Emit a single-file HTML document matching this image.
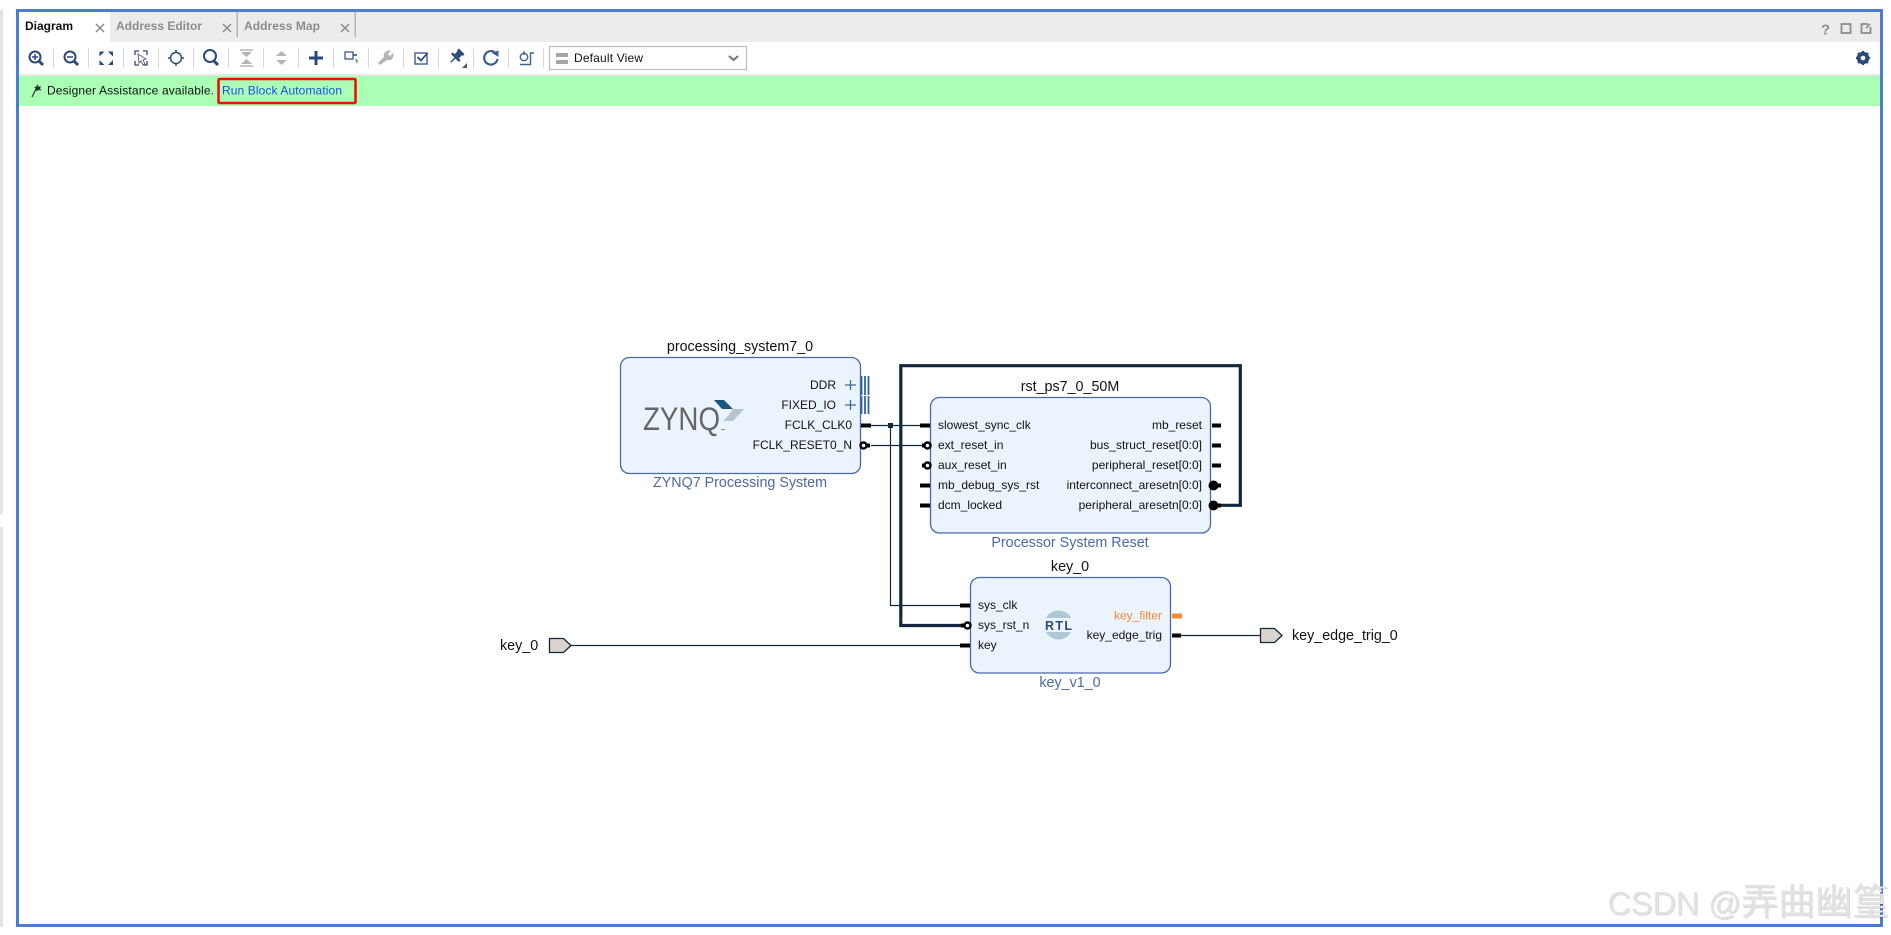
<!DOCTYPE html>
<html><head><meta charset="utf-8"><style>
html,body{margin:0;padding:0;background:#fff;width:1891px;height:935px;overflow:hidden}
svg{display:block;font-family:"Liberation Sans","Noto Sans CJK SC",sans-serif}
.p{font-size:12px;fill:#111}
.t{font-size:14.3px;fill:#111}
.s{font-size:14.3px;fill:#4a69a5}
.b{fill:#ebf4fd;stroke:#4a69a8;stroke-width:1.3}
.w{fill:none;stroke:#12263c;stroke-width:1.2}
.W{fill:none;stroke:#12263c;stroke-width:3.2}
.st{stroke:#000;stroke-width:4}
.ic{fill:none;stroke:#2b4a7c;stroke-width:2}
.sep{stroke:#d8d8d8;stroke-width:1}
.tab{font-size:12px;font-weight:bold;fill:#8c8c8c}
.x{stroke:#8a8a8a;stroke-width:1.4}
</style></head><body>
<svg width="1891" height="935" viewBox="0 0 1891 935" xmlns="http://www.w3.org/2000/svg">
<rect x="0" y="10" width="3" height="504" fill="#e4e4e4"/>
<rect x="0" y="527" width="3" height="400" fill="#e4e4e4"/>
<!-- header -->
<rect x="19" y="12" width="1861" height="30" fill="#ececec"/>
<rect x="19" y="12" width="91" height="30" fill="#fff"/>
<rect x="236.500" y="12" width="1.500" height="25" fill="#b4b4b4"/>
<rect x="354.500" y="12" width="1.500" height="25" fill="#b4b4b4"/>
<text x="25" y="30" font-size="12" font-weight="bold" fill="#111">Diagram</text>
<text x="116" y="30" class="tab" textLength="86">Address Editor</text>
<text x="244" y="30" class="tab" textLength="76">Address Map</text>
<path class="x" d="M96 24l8 8M104 24l-8 8M223 24l8 8M231 24l-8 8M341 24l8 8M349 24l-8 8"/>
<!-- toolbar -->
<rect x="19" y="42" width="1861" height="32" fill="#fff"/>
<rect x="19" y="74" width="1861" height="2" fill="#e8e8e8"/>
<path class="sep" d="M53.500 48v20M88.500 48v20M123.500 48v20M158.500 48v20M193.500 48v20M228.500 48v20M263.500 48v20M298.500 48v20M333.500 48v20M368.500 48v20M403.500 48v20M438.500 48v20M473.500 48v20M508.500 48v20M543.500 48v20"/>
<g class="ic">
<circle cx="35" cy="57" r="5.500"/><path d="M39 61l4 4" stroke-width="3"/><path d="M32 57h6M35 54v6" stroke-width="1.500"/>
<circle cx="70" cy="57" r="5.500"/><path d="M74 61l4 4" stroke-width="3"/><path d="M67 57h6" stroke-width="1.500"/>
<path d="M99.500 51.500h5l-5 5zM113 51.500h-5l5 5zM99.500 65h5l-5-5zM113 65h-5l5-5z" fill="#2b4a7c" stroke="none"/>
<path d="M135 55v-4h4M143 51h4v4M135 61v4h4M147 61v4h-4" stroke-width="1.300"/><path d="M138 54l8 5-3 1 2 4-2 1-2-4-2 2z" stroke="#667" stroke-width="1" fill="#fff"/>
<circle cx="176" cy="58" r="5.500" stroke-width="1.500"/><path d="M176 50v3M176 63v3M168 58h3M181 58h3" stroke-width="1.500"/>
<circle cx="210" cy="56" r="6"/><path d="M214 61l4 4" stroke-width="3"/>
<path d="M309 58h14M316 51v14" stroke-width="3"/>
</g>
<path d="M240 50h13M240 66h13" stroke="#b5b5b5" stroke-width="1.500"/>
<path d="M241 52h11l-5.500 5zM241 64h11l-5.500-5z" fill="#b5b5b5"/>
<path d="M276 56h11l-5.500-5zM276 60h11l-5.500 5z" fill="#b5b5b5"/>
<rect x="345" y="52" width="8" height="7" fill="#fff" stroke="#2b4a7c" stroke-width="1.200"/>
<path d="M353 55h4" stroke="#2b4a7c" stroke-width="1.500"/>
<path d="M355 59l3 1-1 4z" fill="#2fae4a"/>
<path d="M380 65l-2-2 6-6a5 5 0 0 1 7-6l-3 3 2 2 3-3a5 5 0 0 1-6 7z" fill="#b5b5b5"/>
<rect x="415" y="53" width="12" height="11" fill="none" stroke="#3a5d8f" stroke-width="1.400"/>
<path d="M417.500 57l3.500 3.500 6.500-7.500" fill="none" stroke="#2b4a7c" stroke-width="1.700"/>
<g transform="rotate(45 456 57)" fill="#2b4a7c">
<rect x="452" y="49" width="8" height="2.500"/>
<rect x="453" y="51" width="6" height="5"/>
<rect x="450.500" y="56" width="11" height="2.500"/>
<rect x="455.300" y="58" width="1.400" height="6.500"/>
</g>
<path d="M467 68h-5l5-5z" fill="#555"/>
<path d="M495.500 53a6.700 6.700 0 1 0 2 6" fill="none" stroke="#3a5d8f" stroke-width="2.200"/>
<path d="M492 53l6.500-2.500v6.500z" fill="#3a5d8f"/>
<circle cx="524" cy="57" r="3.700" fill="none" stroke="#3a6590" stroke-width="1.400"/>
<path d="M520 64.500h10.500V53h3.500M524 51v4" fill="none" stroke="#3a6590" stroke-width="1.400"/>
<rect x="549.500" y="46.500" width="197" height="23" fill="#fff" stroke="#bdbdbd" stroke-width="1.200"/>
<path d="M556 53h12v4h-12zM556 60h12v4h-12z" fill="#a6a6a6"/>
<text x="574" y="62" font-size="12" fill="#111" textLength="69">Default View</text>
<path d="M729 56l4.500 4 4.500-4" fill="none" stroke="#777" stroke-width="2"/>
<!-- right icons -->
<text x="1821" y="34.500" font-size="15" font-weight="bold" fill="#8c8c8c">?</text>
<rect x="1841.500" y="24" width="9" height="9" fill="none" stroke="#8c8c8c" stroke-width="1.800"/>
<path d="M1868 24h-6.500v9h9v-6M1866 28l4-4" fill="none" stroke="#8c8c8c" stroke-width="1.800"/>
<circle cx="1863" cy="58" r="4.500" fill="none" stroke="#2b4a7c" stroke-width="3.500"/>
<path d="M1863 51v14M1856 58h14M1858 53l10 10M1868 53l-10 10" stroke="#2b4a7c" stroke-width="2.200"/>
<circle cx="1863" cy="58" r="2.300" fill="#fff"/>
<!-- banner -->
<rect x="19" y="76" width="1861" height="30" fill="#aaffb4"/>
<path d="M32 97l4.500-9" stroke="#233" stroke-width="1.200"/>
<path d="M37 84l1.500 2.500 2.500-.5-1 2.500 1.500 2-3-.5-2 1.500-.5-2.500-2-1.500 2.500-1z" fill="#233"/>
<text x="47" y="94.500" font-size="12" fill="#111" textLength="167">Designer Assistance available.</text>
<text x="222" y="94.500" font-size="12" fill="#1650f0" textLength="120">Run Block Automation</text>
<rect x="218.500" y="79" width="137" height="24" rx="1" fill="none" stroke="#f0100a" stroke-width="2.600"/>
<!-- wires -->
<path class="W" d="M1216 505.300H1240.300V365.700H900.800V625.500H965"/>
<path class="w" d="M871 425.500H921M871 445.500H923M890.500 425.500V605.500H961M571 645.500H961M1181 635.500H1260"/>
<rect x="888" y="423" width="5" height="5" fill="#12263c"/>
<!-- PS -->
<rect class="b" x="620.500" y="357.500" width="240" height="116" rx="9"/>
<text class="t" x="740" y="351" text-anchor="middle">processing_system7_0</text>
<text class="s" x="740" y="487" text-anchor="middle">ZYNQ7 Processing System</text>
<text x="643" y="430" font-size="32" fill="#666" textLength="77" lengthAdjust="spacingAndGlyphs">ZYNQ</text>
<path d="M721 429h4v1h-4z" fill="#888"/>
<path d="M714 400h10l9 9h-11z" fill="#155a7c"/>
<path d="M733 409h11l-11 12h-10l5-5z" fill="#b6c5cf"/>
<text class="p" x="836" y="389" text-anchor="end">DDR</text>
<text class="p" x="836" y="409" text-anchor="end">FIXED_IO</text>
<text class="p" x="852" y="429" text-anchor="end">FCLK_CLK0</text>
<text class="p" x="852" y="449" text-anchor="end">FCLK_RESET0_N</text>
<path d="M845 385h11M850.500 380v10M845 405h11M850.500 400v10" stroke="#3d6a9e" stroke-width="1.300"/>
<path d="M861.500 376v19M865 376v19M868.500 376v19M861.500 396v18M865 396v18M868.500 396v18" stroke="#2f659e" stroke-width="1.800"/>
<path class="st" d="M861 425.500h10M866 445.500h4"/>
<circle cx="863.500" cy="445.500" r="3" fill="#fff" stroke="#000" stroke-width="2.400"/>
<!-- rst -->
<rect class="b" x="930.500" y="397.500" width="280" height="135.500" rx="9"/>
<text class="t" x="1070" y="391" text-anchor="middle">rst_ps7_0_50M</text>
<text class="s" x="1070" y="547" text-anchor="middle">Processor System Reset</text>
<g class="p">
<text x="938" y="429">slowest_sync_clk</text>
<text x="938" y="449">ext_reset_in</text>
<text x="938" y="469">aux_reset_in</text>
<text x="938" y="489">mb_debug_sys_rst</text>
<text x="938" y="509">dcm_locked</text>
</g>
<g class="p" text-anchor="end">
<text x="1202" y="429">mb_reset</text>
<text x="1202" y="449">bus_struct_reset[0:0]</text>
<text x="1202" y="469">peripheral_reset[0:0]</text>
<text x="1202" y="489">interconnect_aresetn[0:0]</text>
<text x="1202" y="509">peripheral_aresetn[0:0]</text>
</g>
<path class="st" d="M920 425.500h10M922 445.500h4M922 465.500h4M920 485.500h10M920 505.500h10M1212 425.500h9M1212 445.500h9M1212 465.500h9M1214 485.500h7M1214 505.500h7"/>
<circle cx="927.500" cy="445.500" r="3" fill="#fff" stroke="#000" stroke-width="2.400"/>
<circle cx="927.500" cy="465.500" r="3" fill="#fff" stroke="#000" stroke-width="2.400"/>
<circle cx="1213.500" cy="485.500" r="5" fill="#000"/>
<circle cx="1213.500" cy="505.500" r="5" fill="#000"/>
<!-- key -->
<rect class="b" x="970.500" y="577.500" width="200" height="95.500" rx="9"/>
<text class="t" x="1070" y="571" text-anchor="middle">key_0</text>
<text class="s" x="1070" y="687" text-anchor="middle">key_v1_0</text>
<g class="p">
<text x="978" y="609">sys_clk</text>
<text x="978" y="629">sys_rst_n</text>
<text x="978" y="649">key</text>
</g>
<text class="p" x="1162" y="619.500" text-anchor="end" style="fill:#f58a32">key_filter</text>
<text class="p" x="1162" y="639" text-anchor="end">key_edge_trig</text>
<circle cx="1058.500" cy="625" r="14.500" fill="#afc8d6"/>
<rect x="1042" y="618" width="33" height="14" fill="#ebf4fd"/>
<text x="1058.500" y="630" font-size="12.500" font-weight="bold" fill="#2b4a7c" text-anchor="middle" textLength="27">RTL</text>
<path class="st" d="M960 605.500h10M961 625.500h4M960 645.500h10M1172 635.500h9"/>
<circle cx="967.500" cy="625.500" r="3" fill="#fff" stroke="#000" stroke-width="2.400"/>
<path d="M1172 616h10" stroke="#f58a32" stroke-width="5"/>
<!-- ports -->
<path d="M549.500 638.500h14l7.500 7-7.500 7h-14z" fill="#dbd3ce" stroke="#12263c" stroke-width="1.300"/>
<path d="M1260.500 628.500h14l7.500 7-7.500 7h-14z" fill="#dbd3ce" stroke="#12263c" stroke-width="1.300"/>
<text class="t" x="500" y="650">key_0</text>
<text class="t" x="1292" y="640">key_edge_trig_0</text>
<!-- frame -->
<rect x="17.500" y="10.500" width="1864" height="915" fill="none" stroke="#4a7ccf" stroke-width="3"/>
<!-- watermark -->
<text x="1608.500" y="915.500" fill="#000" fill-opacity=".14"><tspan font-size="32.400">CSDN @</tspan><tspan font-size="37" font-family="'Noto Sans CJK SC',sans-serif">弄曲幽篁</tspan></text>
<text x="1607.500" y="914.500" fill="#e2e2e2"><tspan font-size="32.400">CSDN @</tspan><tspan font-size="37" font-family="'Noto Sans CJK SC',sans-serif">弄曲幽篁</tspan></text>
</svg>
</body></html>
